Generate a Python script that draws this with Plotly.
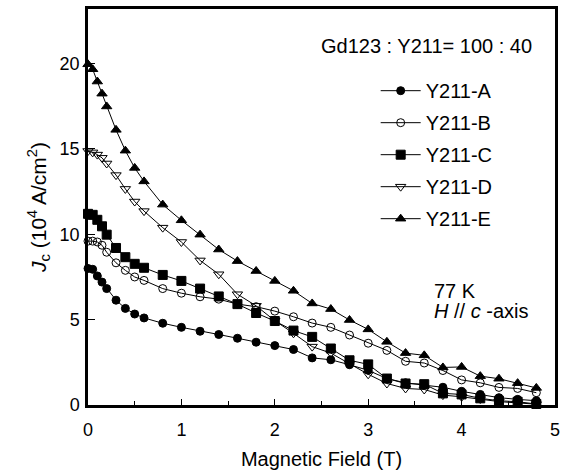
import plotly.graph_objects as go

field = [0, 0.05, 0.1, 0.15, 0.2, 0.3, 0.4, 0.5, 0.6, 0.8, 1.0, 1.2, 1.4, 1.6, 1.8,
         2.0, 2.2, 2.4, 2.6, 2.8, 3.0, 3.2, 3.4, 3.6, 3.8, 4.0, 4.2, 4.4, 4.6, 4.8]

jc_a = [8.0, 7.95, 7.56, 7.2, 6.82, 6.14, 5.66, 5.33, 5.1, 4.79, 4.55, 4.32, 4.13, 3.91, 3.68,
        3.48, 3.25, 2.76, 2.65, 2.36, 2.03, 1.55, 1.3, 1.16, 1.04, 0.8, 0.62, 0.43, 0.33, 0.25]
jc_b = [9.6, 9.6, 9.55, 9.36, 8.95, 8.33, 7.89, 7.5, 7.3, 6.82, 6.55, 6.34, 6.2, 5.91, 5.76,
        5.5, 5.17, 4.8, 4.55, 4.1, 3.62, 3.2, 2.56, 2.46, 2.02, 1.47, 1.3, 1.03, 0.97, 0.72]
jc_c = [11.2, 11.14, 10.85, 10.47, 9.98, 9.2, 8.66, 8.27, 8.04, 7.62, 7.27, 6.82, 6.36, 5.91, 5.39,
        4.92, 4.36, 3.99, 3.31, 2.62, 2.38, 1.55, 1.26, 1.22, 0.68, 0.62, 0.39, 0.25, 0.19, 0.06]
jc_d = [14.88, 14.8, 14.67, 14.48, 14.15, 13.47, 12.66, 11.92, 11.36, 10.39, 9.55, 8.47, 7.66, 6.49, 5.81,
        4.94, 4.2, 3.42, 3.04, 2.42, 1.8, 1.26, 0.97, 0.91, 0.58, 0.48, 0.35, 0.2, 0.12, 0.05]
jc_e = [19.96, 19.67, 18.95, 18.24, 17.49, 16.12, 14.9, 13.89, 13.1, 11.74, 10.82, 9.98, 9.11, 8.43, 7.85,
        7.27, 6.69, 5.95, 5.62, 4.98, 4.43, 3.7, 3.04, 2.91, 2.2, 2.23, 1.69, 1.54, 1.28, 1.0]

names = ["Y211-A", "Y211-B", "Y211-C", "Y211-D", "Y211-E"]
series = [jc_a, jc_b, jc_c, jc_d, jc_e]
symbols = ["circle", "circle-open", "square", "triangle-down-open", "triangle-up"]
sizes = [8, 8, 9, 9, 9]

FONT = "Liberation Sans, Arial, sans-serif"

fig = go.Figure()
for i, (nm, ys, sym, sz) in enumerate(zip(names, series, symbols, sizes)):
    fig.add_trace(go.Scatter(
        x=field, y=ys, name=nm, mode="lines+markers",
        line=dict(color="black", width=1),
        marker=dict(symbol=sym, size=sz, color="black",
                    line=dict(color="black", width=1)),
        cliponaxis=False, legendgroup=nm,
    ))

fig.update_layout(
    width=570, height=474,
    margin=dict(l=88, r=15, t=6, b=69),
    plot_bgcolor="white", paper_bgcolor="white",
    font=dict(family=FONT, size=18, color="black"),
    showlegend=True,
    legend=dict(x=0.616, y=0.843, xanchor="left", yanchor="top",
                bgcolor="rgba(0,0,0,0)", font=dict(size=20),
                traceorder="grouped", tracegroupgap=3,
                itemwidth=40),
    xaxis=dict(range=[0, 5], tickvals=[0, 1, 2, 3, 4, 5], ticks="inside", ticklen=6,
               tickwidth=1, tickcolor="black", showline=True, linewidth=2.5,
               linecolor="black", mirror=True, showgrid=False, zeroline=False,
               minor=dict(tickvals=[0.5, 1.5, 2.5, 3.5, 4.5], ticks="inside",
                          ticklen=4, tickcolor="black", showgrid=False),
               title=dict(text="Magnetic Field (T)", font=dict(size=20), standoff=13),
               tickfont=dict(size=18), ticklabelstandoff=7),
    yaxis=dict(range=[0, 23.2], tickvals=[0, 5, 10, 15, 20], ticks="inside", ticklen=7,
               tickwidth=1, tickcolor="black", showline=True, linewidth=2.5,
               linecolor="black", mirror=True, showgrid=False, zeroline=False,
               title=dict(text="<i>J</i><sub>c</sub> (10<sup>4</sup> A/cm<sup>2</sup>)",
                          font=dict(size=21), standoff=8),
               tickfont=dict(size=18), ticklabelstandoff=2),
)

fig.add_annotation(x=0.725, y=0.9065, xref="paper", yref="paper",
                   text="Gd123 : Y211= 100 : 40", showarrow=False,
                   font=dict(size=20), xanchor="center", yanchor="middle")
fig.add_annotation(x=0.737, y=0.288, xref="paper", yref="paper",
                   text="77 K", showarrow=False,
                   font=dict(size=20), xanchor="left", yanchor="middle")
fig.add_annotation(x=0.737, y=0.238, xref="paper", yref="paper",
                   text="<i>H</i> // <i>c</i> -axis", showarrow=False,
                   font=dict(size=20), xanchor="left", yanchor="middle")

fig.write_html("out.html", config={"displayModeBar": False},
               post_script="document.body.style.margin='0';")
